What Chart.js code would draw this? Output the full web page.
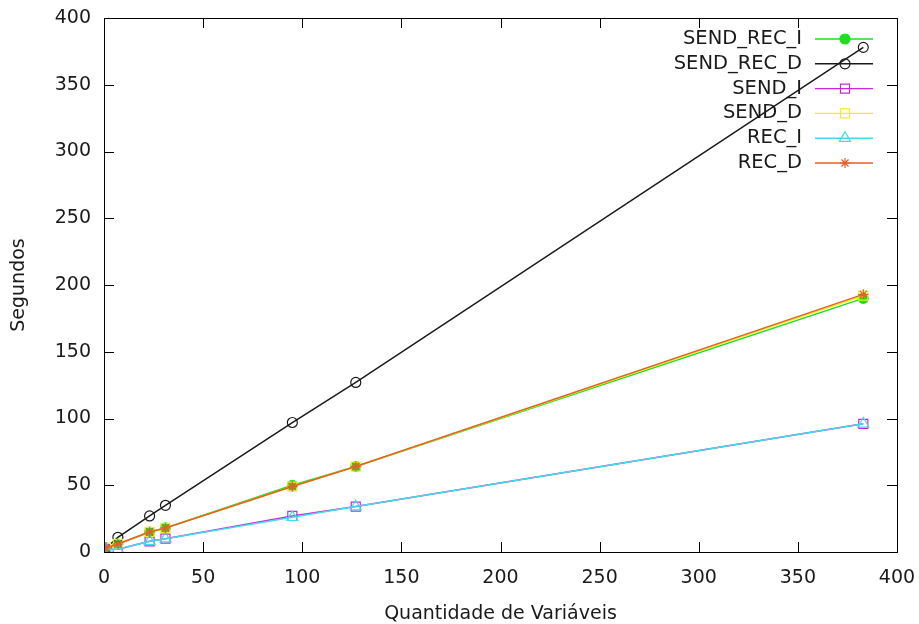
<!DOCTYPE html>
<html>
<head>
<meta charset="utf-8">
<script src="https://cdn.jsdelivr.net/npm/chart.js@4.4.0/dist/chart.umd.min.js"></script>
<style>
    html, body { margin: 0; padding: 0; background: #fff; }
</style>
</head>
<body>
<canvas id="Chart1" width="919" height="624"></canvas>
<script>
// x values (quantidade de variaveis)
const variaveis = [1, 7, 23, 31, 95, 127, 383];

// seconds per series
const sendRecI = [3, 6, 15, 18, 50, 64, 190];
const sendRecD = [3, 11, 27, 35, 97, 127, 378];
const sendI = [2, 2, 8, 10, 27, 34, 96];
const sendD = [3, 6, 15, 18, 49, 64, 192];
const recI = [2, 2, 8, 10, 26, 34, 96];
const recD = [3, 6, 15, 18, 49, 64, 193];

const seriesNames = ['SEND_REC_I', 'SEND_REC_D', 'SEND_I', 'SEND_D', 'REC_I', 'REC_D'];
const seriesValues = [sendRecI, sendRecD, sendI, sendD, recI, recD];
const seriesColors = ['#20dd20', '#1a1a1a', '#c828d8', '#eeee20', '#40dcea', '#e2602a'];
const seriesMarkers = ['circle', 'circle', 'rect', 'rect', 'triangle', 'star'];
const seriesFilled = [true, false, false, false, false, false];

const xTicks = [0, 50, 100, 150, 200, 250, 300, 350, 400];
const yTicks = [0, 50, 100, 150, 200, 250, 300, 350, 400];

const FONT = 'DejaVu Sans';

const markerRadius = (style) => {
    if (style === 'rect' || style === 'triangle') return 6.4;
    return 5;
};

// gnuplot style box with inward ticks on all sides
const framePlugin = {
    id: 'frame',
    afterDraw(chart) {
        const { ctx, chartArea: a, scales: { x, y } } = chart;
        ctx.save();
        ctx.strokeStyle = '#000';
        ctx.lineWidth = 1;
        ctx.strokeRect(Math.round(a.left) + 0.5, Math.round(a.top) + 0.5,
            Math.round(a.right - a.left), Math.round(a.bottom - a.top));
        ctx.beginPath();
        xTicks.forEach(v => {
            const px = Math.round(x.getPixelForValue(v)) + 0.5;
            ctx.moveTo(px, a.bottom); ctx.lineTo(px, a.bottom - 10);
            ctx.moveTo(px, a.top); ctx.lineTo(px, a.top + 10);
        });
        yTicks.forEach(v => {
            const py = Math.round(y.getPixelForValue(v)) + 0.5;
            ctx.moveTo(a.left, py); ctx.lineTo(a.left + 10, py);
            ctx.moveTo(a.right, py); ctx.lineTo(a.right - 10, py);
        });
        ctx.stroke();
        ctx.restore();
    }
};

// key in the top right corner, text to the left of the sample
const keyPlugin = {
    id: 'key',
    beforeDatasetsDraw(chart) {
        const { ctx } = chart;
        ctx.save();
        ctx.font = `19.5px "${FONT}"`;
        ctx.textAlign = 'right';
        ctx.textBaseline = 'middle';
        chart.data.datasets.forEach((ds, i) => {
            const yy = 39 + i * 24.8;
            ctx.fillStyle = '#1a1a1a';
            ctx.fillText(ds.label, 802, yy);
            ctx.strokeStyle = ds.borderColor;
            ctx.lineWidth = 1.4;
            ctx.beginPath();
            ctx.moveTo(815, yy);
            ctx.lineTo(873, yy);
            ctx.stroke();
            ctx.fillStyle = ds.pointBackgroundColor;
            ctx.lineWidth = 1.2;
            Chart.helpers.drawPoint(ctx, {
                pointStyle: ds.pointStyle,
                radius: ds.pointRadius,
                borderWidth: 1.2,
                rotation: 0
            }, 845, yy);
        });
        ctx.restore();
    }
};

const datasets = seriesNames.map((name, i) => ({
    label: name,
    data: variaveis.map((v, k) => ({ x: v, y: seriesValues[i][k] })),
    borderColor: seriesColors[i],
    backgroundColor: seriesColors[i],
    borderWidth: 1.5,
    pointStyle: seriesMarkers[i],
    pointRadius: markerRadius(seriesMarkers[i]),
    pointBorderColor: seriesColors[i],
    pointBackgroundColor: seriesFilled[i] ? seriesColors[i] : 'rgba(0,0,0,0)',
    pointBorderWidth: 1.2,
    tension: 0,
    order: seriesNames.length - 1 - i
}));

const ctx = document.getElementById('Chart1').getContext('2d');
new Chart(ctx, {
    type: 'line',
    data: { datasets: datasets },
    options: {
        responsive: false,
        animation: false,
        layout: { padding: { top: 18, right: 22, bottom: 0, left: 0 } },
        scales: {
            x: {
                type: 'linear',
                min: 0,
                max: 400,
                afterFit: (scale) => {
                    scale.height = 72;
                    scale.paddingLeft = 0;
                    scale.paddingRight = 0;
                },
                afterBuildTicks: (scale) => { scale.ticks = xTicks.map(v => ({ value: v })); },
                grid: { display: false, drawTicks: false },
                border: { display: false },
                ticks: { padding: 15, color: '#1a1a1a', font: { family: FONT, size: 19 } },
                title: {
                    display: true,
                    text: 'Quantidade de Variáveis',
                    color: '#1a1a1a',
                    padding: { top: 0, bottom: -1 },
                    font: { family: FONT, size: 19 }
                }
            },
            y: {
                type: 'linear',
                min: 0,
                max: 400,
                afterFit: (scale) => {
                    scale.width = 104;
                    scale.paddingTop = 0;
                    scale.paddingBottom = 0;
                },
                afterBuildTicks: (scale) => { scale.ticks = yTicks.map(v => ({ value: v })); },
                grid: { display: false, drawTicks: false },
                border: { display: false },
                ticks: { padding: 13, color: '#1a1a1a', font: { family: FONT, size: 19 } },
                title: {
                    display: true,
                    text: 'Segundos',
                    color: '#1a1a1a',
                    padding: { top: 8, bottom: 0 },
                    font: { family: FONT, size: 19 }
                }
            }
        },
        plugins: {
            legend: { display: false },
            tooltip: { enabled: false }
        }
    },
    plugins: [keyPlugin, framePlugin]
});
</script>
</body>
</html>
